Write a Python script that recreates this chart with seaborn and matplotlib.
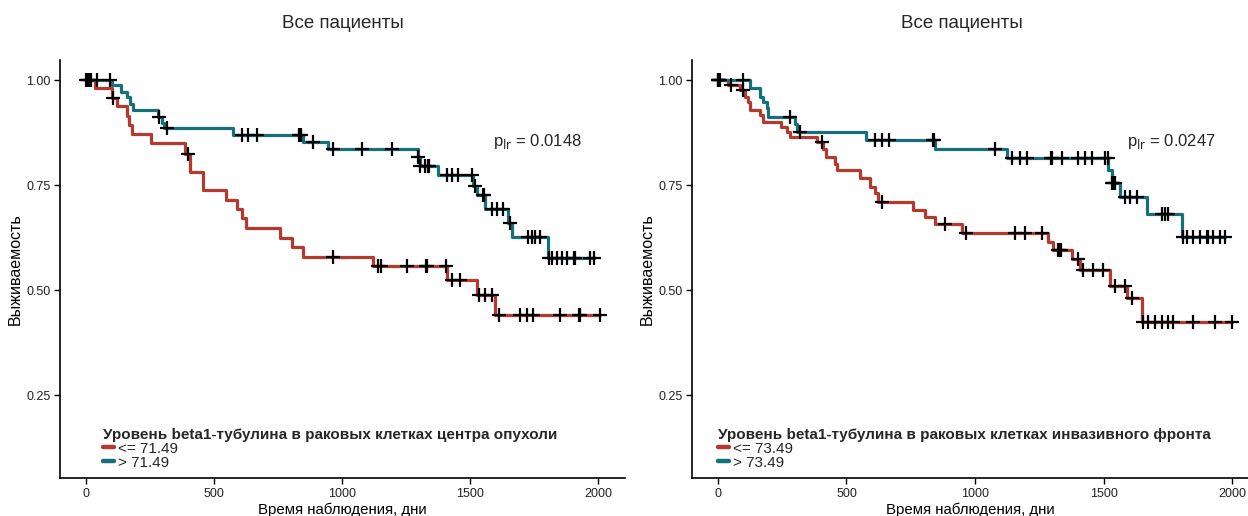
import numpy as np
import pandas as pd
import matplotlib
matplotlib.use("Agg")
import matplotlib.pyplot as plt
import seaborn as sns
from matplotlib.lines import Line2D

sns.set_theme(style="ticks")
plt.rcParams['font.family'] = ['Liberation Sans', 'DejaVu Sans']

RED = "#B43A2F"
TEAL = "#16707A"

# ---------------- Left panel: tumour centre ----------------
L_low_t = [0, 35, 100, 120, 159, 168, 178, 253, 387, 406, 458, 546, 589, 608, 625, 758, 803, 849, 1122, 1409, 1526, 1598]
L_low_s = [1.0, 0.980, 0.957, 0.937, 0.915, 0.893, 0.871, 0.849, 0.825, 0.782, 0.738, 0.714, 0.694, 0.671, 0.647, 0.623, 0.603, 0.579, 0.557, 0.525, 0.488, 0.440]
L_low_c = [105, 400, 966, 1142, 1152, 1255, 1327, 1331, 1405, 1428, 1461, 1533, 1559, 1585, 1613, 1695, 1721, 1747, 1852, 1926, 1930, 2008]

L_high_t = [0, 100, 136, 160, 172, 185, 280, 295, 305, 576, 849, 947, 1295, 1303, 1376, 1513, 1526, 1559, 1650, 1663, 1806]
L_high_s = [1.0, 0.988, 0.972, 0.960, 0.944, 0.929, 0.913, 0.897, 0.885, 0.869, 0.853, 0.835, 0.817, 0.795, 0.774, 0.748, 0.726, 0.694, 0.659, 0.627, 0.577]
L_high_c = [0, 5, 10, 20, 42, 94, 284, 315, 608, 634, 667, 832, 838, 888, 966, 1077, 1194, 1298, 1305, 1324, 1334, 1340, 1409, 1428, 1454, 1507, 1520, 1550, 1554, 1585, 1604, 1630, 1656, 1728, 1741, 1754, 1773, 1810, 1819, 1839, 1858, 1878, 1904, 1911, 1969, 1982]

# ---------------- Right panel: invasive front ----------------
R_low_t = [0, 40, 86, 105, 118, 124, 163, 176, 247, 267, 280, 384, 410, 420, 455, 462, 553, 591, 611, 624, 760, 806, 845, 948, 1285, 1305, 1376, 1408, 1525, 1590, 1648]
R_low_s = [1.0, 0.988, 0.976, 0.960, 0.948, 0.929, 0.917, 0.901, 0.889, 0.877, 0.865, 0.853, 0.835, 0.817, 0.800, 0.786, 0.766, 0.746, 0.730, 0.710, 0.690, 0.673, 0.657, 0.636, 0.615, 0.595, 0.575, 0.548, 0.510, 0.480, 0.425]
R_low_c = [0, 5, 51, 99, 403, 637, 883, 965, 1156, 1195, 1259, 1324, 1331, 1334, 1402, 1421, 1460, 1499, 1545, 1583, 1609, 1652, 1674, 1700, 1726, 1752, 1771, 1849, 1934, 1998]

R_high_t = [0, 124, 163, 176, 189, 196, 300, 306, 576, 844, 1123, 1519, 1532, 1564, 1668, 1804]
R_high_s = [1.0, 0.980, 0.960, 0.948, 0.933, 0.913, 0.895, 0.877, 0.856, 0.835, 0.814, 0.786, 0.754, 0.722, 0.681, 0.627]
R_high_c = [0, 4, 8, 99, 280, 319, 611, 637, 667, 836, 840, 1078, 1143, 1175, 1204, 1296, 1300, 1337, 1402, 1428, 1454, 1506, 1516, 1534, 1538, 1545, 1584, 1603, 1629, 1726, 1739, 1752, 1808, 1823, 1849, 1875, 1901, 1908, 1927, 1953, 1972]

TITLE = "Все пациенты"
XLABEL = "Время наблюдения, дни"
YLABEL = "Выживаемость"
X_TICKS = [0, 500, 1000, 1500, 2000]
Y_TICKS = [0.25, 0.50, 0.75, 1.00]

panels = [
    dict(low=(L_low_t, L_low_s, L_low_c), high=(L_high_t, L_high_s, L_high_c),
         labels=["<= 71.49", "> 71.49"],
         legend_title="Уровень beta1-тубулина в раковых клетках центра опухоли",
         p="0.0148", rect=[60, 625], xlim=(-101.6, 2105), title_x=343, leg_x=103),
    dict(low=(R_low_t, R_low_s, R_low_c), high=(R_high_t, R_high_s, R_high_c),
         labels=["<= 73.49", "> 73.49"],
         legend_title="Уровень beta1-тубулина в раковых клетках инвазивного фронта",
         p="0.0247", rect=[692, 1248], xlim=(-101, 2062), title_x=962, leg_x=718),
]

W, H = 1248, 516
fig = plt.figure(figsize=(W / 100, H / 100), dpi=100)

ax_bottom, ax_top = 478, 60
ylim = (1 - (ax_bottom - 80) / 420, 1 + (80 - ax_top) / 420)


def curve_frames(t, s, c, name):
    end = max(max(t), max(c))
    tt = list(t) + [end]
    ss = list(s) + [s[-1]]
    line = pd.DataFrame({"t": tt, "S": ss, "grp": name})
    idx = np.searchsorted(np.array(t), np.array(c), side="right") - 1
    cens = pd.DataFrame({"t": c, "S": np.array(s)[idx], "grp": name})
    return line, cens


for p in panels:
    x0, x1 = p["rect"]
    ax = fig.add_axes([x0 / W, (H - ax_bottom) / H, (x1 - x0) / W, (ax_bottom - ax_top) / H])
    l1, c1 = curve_frames(*p["low"], p["labels"][0])
    l2, c2 = curve_frames(*p["high"], p["labels"][1])
    lines = pd.concat([l1, l2], ignore_index=True)
    cens = pd.concat([c1, c2], ignore_index=True)
    pal = {p["labels"][0]: RED, p["labels"][1]: TEAL}
    sns.lineplot(data=lines, x="t", y="S", hue="grp", palette=pal, estimator=None,
                 sort=False, drawstyle="steps-post", linewidth=2.3, legend=False, ax=ax)
    sns.scatterplot(data=cens, x="t", y="S", marker="+", s=110, color="black",
                    linewidth=1.6, legend=False, ax=ax, zorder=5)
    ax.set_xlim(*p["xlim"])
    ax.set_ylim(*ylim)
    ax.set_xticks(X_TICKS)
    ax.set_yticks(Y_TICKS)
    ax.set_yticklabels([f"{v:.2f}" for v in Y_TICKS])
    ax.set_xlabel(XLABEL, fontsize=10.8, color="black", labelpad=2)
    ax.set_ylabel(YLABEL, fontsize=11.5, color="black", labelpad=2)
    ax.tick_params(axis="both", labelsize=9, length=4, width=1, color="black",
                   labelcolor="#222222", pad=3)
    for side in ["top", "right"]:
        ax.spines[side].set_visible(False)
    for side in ["left", "bottom"]:
        ax.spines[side].set_color("black")
        ax.spines[side].set_linewidth(1.2)
    ax.grid(False)
    ax.text(1590, 0.853, r"p$_{\mathrm{lr}}$ = " + p["p"], fontsize=12, ha="left", va="center")
    handles = [Line2D([0], [0], color=RED, lw=3.2), Line2D([0], [0], color=TEAL, lw=3.2)]
    ax.legend(handles, p["labels"], title=p["legend_title"], loc="lower left",
              bbox_to_anchor=((p["leg_x"] - x0) / (x1 - x0), 0.02),
              frameon=False, fontsize=11, borderpad=0, borderaxespad=0,
              handlelength=0.75, handletextpad=0.2, labelspacing=0.0,
              title_fontproperties={"weight": "bold", "size": 11}, alignment="left")
    fig.text(p["title_x"] / W, 1 - 23 / H, TITLE, fontsize=13.5, ha="center", va="center")

fig.savefig("out.png", dpi=100)
